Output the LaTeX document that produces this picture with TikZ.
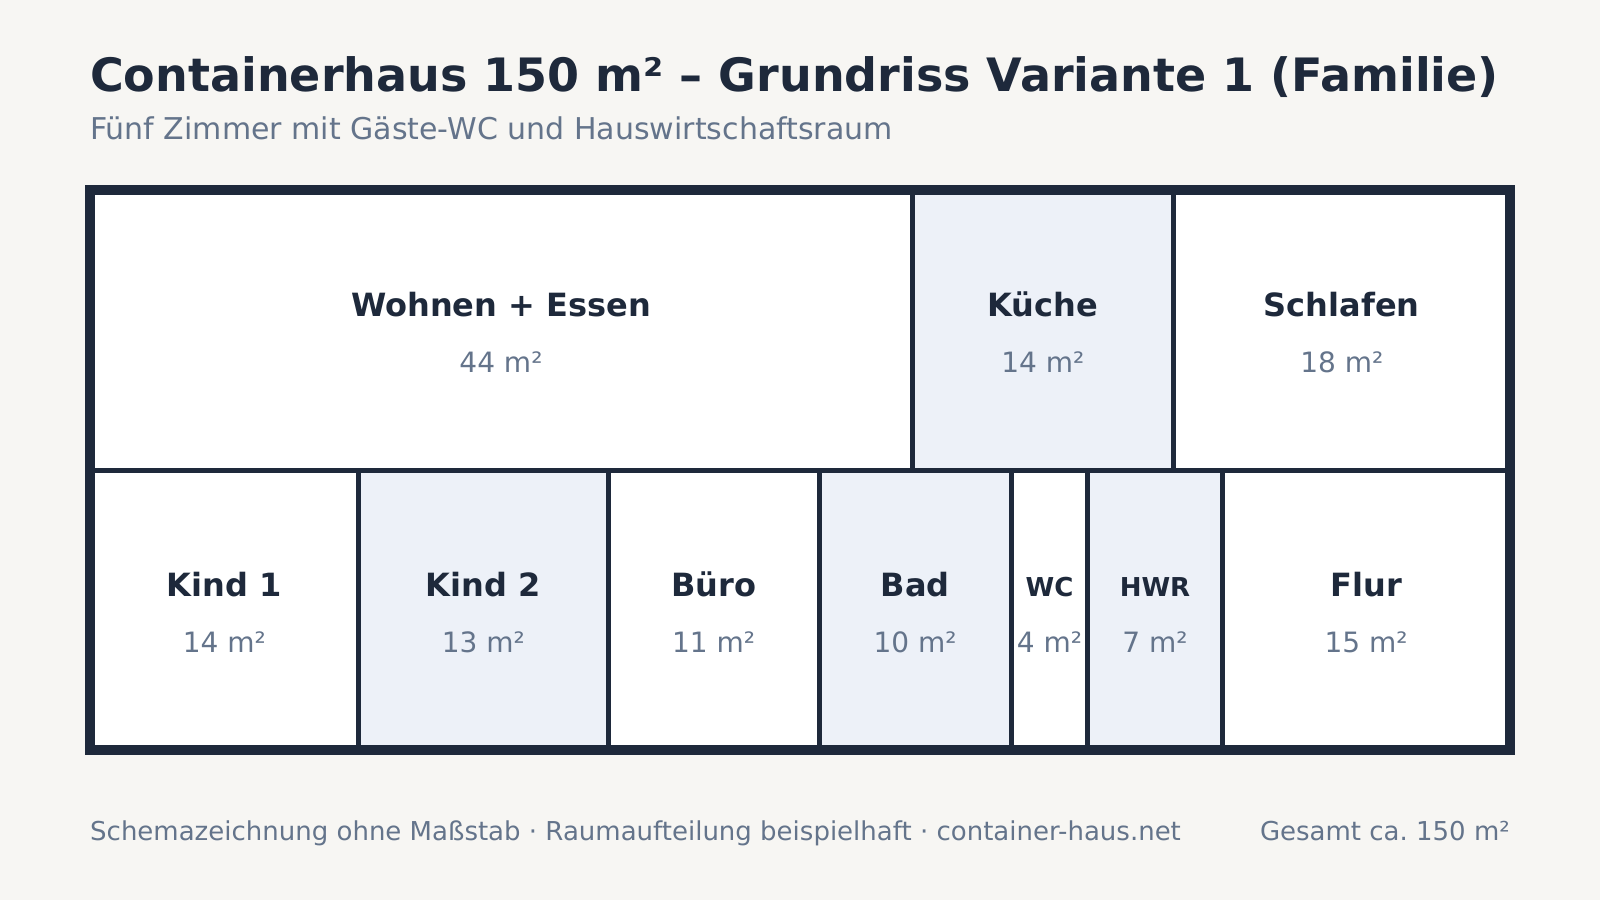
\documentclass[tikz,border=0pt]{standalone}
\usepackage{fontspec}
\setmainfont{DejaVu Sans}
\frenchspacing
\definecolor{bg}{HTML}{F7F6F3}
\definecolor{ink}{HTML}{1E293B}
\definecolor{muted}{HTML}{64748B}
\definecolor{tint}{HTML}{EDF1F8}
\tikzset{
  wall/.style={draw=ink, line width=5bp},
  outerwall/.style={draw=ink, line width=10bp},
  roomname/.style={anchor=base, inner sep=0pt, text=ink, font=\bfseries\fontsize{32bp}{32bp}\selectfont},
  smallname/.style={anchor=base, inner sep=0pt, text=ink, font=\bfseries\fontsize{26bp}{26bp}\selectfont},
  roomarea/.style={anchor=base, inner sep=0pt, text=muted, font=\fontsize{28bp}{28bp}\selectfont},
  titletext/.style={anchor=base west, inner sep=0pt, text=ink, font=\bfseries\fontsize{46bp}{46bp}\selectfont},
  subtext/.style={inner sep=0pt, text=muted, font=\fontsize{30bp}{30bp}\selectfont},
  foottext/.style={inner sep=0pt, text=muted, font=\fontsize{26bp}{26bp}\selectfont}
}
\begin{document}
\begin{tikzpicture}[x=1bp,y=-1bp]
\fill[bg] (0,0) rectangle (1600,900);
\useasboundingbox (0,0) rectangle (1600,900);
% room fills
\fill[white] (90,190) rectangle (1510,750);
\fill[tint] (912,190) rectangle (1173.7,470);
\fill[tint] (358.6,470) rectangle (608.1,750);
\fill[tint] (819.2,470) rectangle (1011.1,750);
\fill[tint] (1087.9,470) rectangle (1222.2,750);
% interior walls
\draw[wall] (90,470) -- (1510,470);
\draw[wall] (912,190) -- (912,470);
\draw[wall] (1173.7,190) -- (1173.7,470);
\foreach \xx in {358.6,608.1,819.2,1011.1,1087.9,1222.2}{
  \draw[wall] (\xx,470) -- (\xx,750);
}
% outer frame
\draw[outerwall] (90,190) rectangle (1510,750);
% title
\node[titletext] (title) at (90,91) {Containerhaus 150 m² – Grundriss Variante 1 (Familie)};
\node[subtext, anchor=base west] (sub) at (90,139) {Fünf Zimmer mit Gäste-WC und Hauswirtschaftsraum};
% top row labels
\node[roomname] (wohnen) at (501,316) {Wohnen + Essen};
\node[roomarea] (wohnenA) at (501,372) {44 m²};
\node[roomname] (kueche) at (1042.8,316) {Küche};
\node[roomarea] (kuecheA) at (1042.8,372) {14 m²};
\node[roomname] (schlafen) at (1341.8,316) {Schlafen};
\node[roomarea] (schlafenA) at (1341.8,372) {18 m²};
% bottom row labels
\node[roomname] (kind1) at (224.3,596) {Kind 1};
\node[roomarea] (kind1A) at (224.3,652) {14 m²};
\node[roomname] (kind2) at (483.3,596) {Kind 2};
\node[roomarea] (kind2A) at (483.3,652) {13 m²};
\node[roomname] (buero) at (713.6,596) {Büro};
\node[roomarea] (bueroA) at (713.6,652) {11 m²};
\node[roomname] (bad) at (915.1,596) {Bad};
\node[roomarea] (badA) at (915.1,652) {10 m²};
\node[smallname] (wc) at (1049.5,596) {WC};
\node[roomarea] (wcA) at (1049.5,652) {4 m²};
\node[smallname] (hwr) at (1155,596) {HWR};
\node[roomarea] (hwrA) at (1155,652) {7 m²};
\node[roomname] (flur) at (1366.1,596) {Flur};
\node[roomarea] (flurA) at (1366.1,652) {15 m²};
% footer
\node[foottext, anchor=base west] (foot) at (90,840) {Schemazeichnung ohne Maßstab · Raumaufteilung beispielhaft · container-haus.net};
\node[foottext, anchor=base east] (total) at (1510,840) {Gesamt ca. 150 m²};
\end{tikzpicture}
\end{document}
